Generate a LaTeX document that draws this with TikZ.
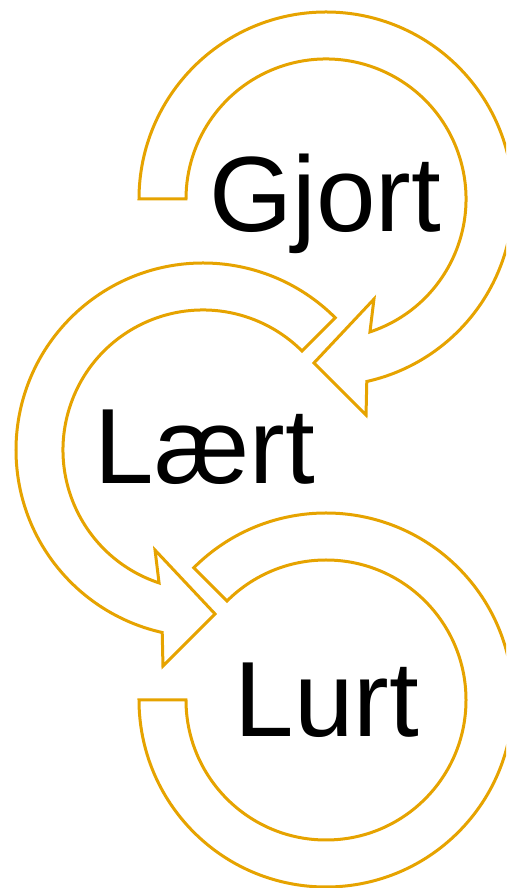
\documentclass[tikz,border=0pt]{standalone}
\usepackage{fontspec}
\setmainfont{Liberation Sans}
\definecolor{gold}{RGB}{230,163,0}
\begin{document}
\begin{tikzpicture}[x=1pt,y=1pt,
  arr/.style={draw=gold, line width=3pt, fill=white, line join=miter},
  lbl/.style={anchor=base, inner sep=0pt, font=\fontsize{107}{120}\selectfont, text=black}]
\useasboundingbox (0,0) rectangle (506,888);
\clip (0,0) rectangle (506,888);
% top arrow (Gjort)
\begin{scope}[shift={(326,689)}]
  \draw[arr] (180:187pt) arc[start angle=180, end angle=-77.4, radius=187pt]
    -- (-79.5:219.7pt) -- (-94.2:164.4pt) -- (-64.4:111pt) -- (-71.7:140pt)
    arc[start angle=-71.7, end angle=180, radius=140pt] -- cycle;
\end{scope}
% middle arrow (Laert)
\begin{scope}[shift={(203,438)}]
  \draw[arr] (45:187pt) arc[start angle=45, end angle=257.4, radius=187pt]
    -- (259.5:219.7pt) -- (274.2:164.4pt) -- (244.4:111pt) -- (251.7:140pt)
    arc[start angle=251.7, end angle=45, radius=140pt] -- cycle;
\end{scope}
% bottom band (Lurt)
\begin{scope}[shift={(326,188)}]
  \draw[arr] (135:187pt) arc[start angle=135, end angle=-180, radius=187pt]
    -- (180:140pt)
    arc[start angle=-180, end angle=135, radius=140pt] -- cycle;
\end{scope}
\node[lbl] (gjort) at (325,656) {Gjort};
\node[lbl] (laert) at (205,404) {Lært};
\node[lbl] (lurt) at (327,151) {Lurt};
\end{tikzpicture}
\end{document}
